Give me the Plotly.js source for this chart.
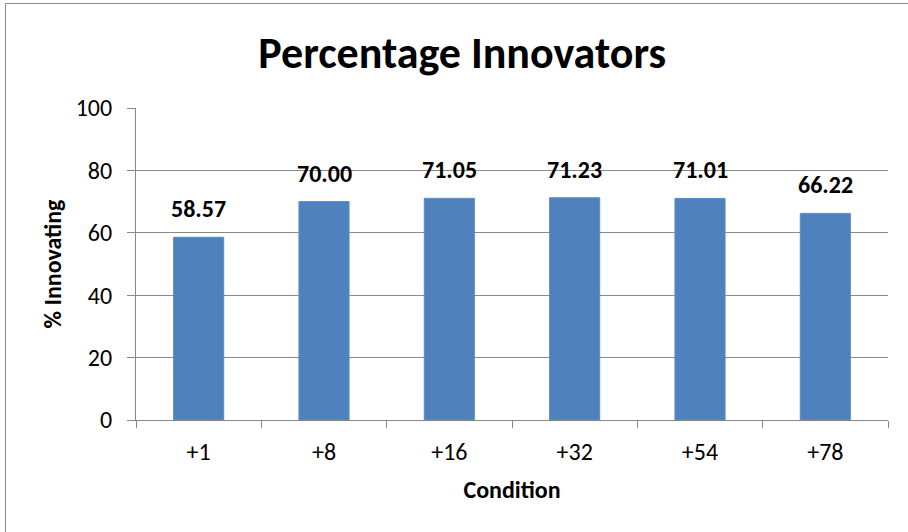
<!DOCTYPE html>
<html>
<head>
<meta charset="utf-8">
<script src="https://cdn.plot.ly/plotly-3.0.1.min.js"></script>
<style>
  html, body { margin: 0; padding: 0; background: #ffffff; }
  #frame {
    position: absolute; left: 5px; top: 3px; width: 920px; height: 560px;
    border: 1.5px solid #8c8c8c; box-sizing: border-box;
  }
  #chart { position: absolute; left: 0; top: 0; width: 908px; height: 532px; }
</style>
</head>
<body>
<div id="frame"></div>
<div id="chart"></div>
<script>
// Share of innovators per condition
const conditions = ['+1', '+8', '+16', '+32', '+54', '+78'];
const innovating = [58.57, 70.00, 71.05, 71.23, 71.01, 66.22];
const yTicks = [0, 20, 40, 60, 80, 100];

const FONT = 'Carlito, Lato, "Open Sans", sans-serif';
const GRID = '#878787';

const bars = {
  type: 'bar',
  x: conditions,
  y: innovating,
  marker: { color: '#4f81bd', line: { color: '#5b8cc8', width: 1 } },
  hoverinfo: 'x+y'
};

// Value labels sit a little above each bar (x given as category index)
const labels = conditions.map((c, i) => ({
  x: i, y: innovating[i], xref: 'x', yref: 'y',
  text: '<b>' + innovating[i].toFixed(2) + '</b>',
  showarrow: false, yanchor: 'bottom', yshift: 12,
  font: { family: FONT, size: 24, color: '#000000' }
}));

const layout = {
  width: 908, height: 532,
  margin: { l: 136, r: 20, t: 108, b: 112, pad: 0 },
  paper_bgcolor: 'rgba(0,0,0,0)',
  plot_bgcolor: 'rgba(0,0,0,0)',
  bargap: 0.6,
  showlegend: false,
  font: { family: FONT, color: '#000000' },
  title: {
    text: '<b>Percentage Innovators</b>',
    font: { family: FONT, size: 44, color: '#000000' },
    x: 0.509, xanchor: 'center', y: 0.902, yanchor: 'middle'
  },
  xaxis: {
    type: 'category',
    range: [-0.5, conditions.length - 0.5],
    showline: true, linecolor: GRID, linewidth: 1,
    ticks: 'outside', tickson: 'boundaries', ticklen: 7, tickcolor: GRID, tickwidth: 1,
    ticklabelstandoff: 10,
    tickangle: 0,
    showgrid: false,
    tickfont: { family: FONT, size: 24, color: '#000000' },
    title: { text: '<b>Condition</b>', font: { family: FONT, size: 24, color: '#000000' }, standoff: 16 }
  },
  yaxis: {
    range: [0, 100],
    tickvals: yTicks,
    ticktext: yTicks.map(String),
    showline: true, linecolor: GRID, linewidth: 1,
    ticks: 'outside', ticklen: 8, tickcolor: GRID, tickwidth: 1,
    ticklabelstandoff: 10,
    showgrid: true, gridcolor: GRID, gridwidth: 1,
    zeroline: false,
    tickfont: { family: FONT, size: 24, color: '#000000' },
    title: { text: '<b>% Innovating</b>', font: { family: FONT, size: 24, color: '#000000' }, standoff: 7 }
  },
  annotations: labels
};

Plotly.newPlot('chart', [bars], layout, { displayModeBar: false, staticPlot: true });
</script>
</body>
</html>
